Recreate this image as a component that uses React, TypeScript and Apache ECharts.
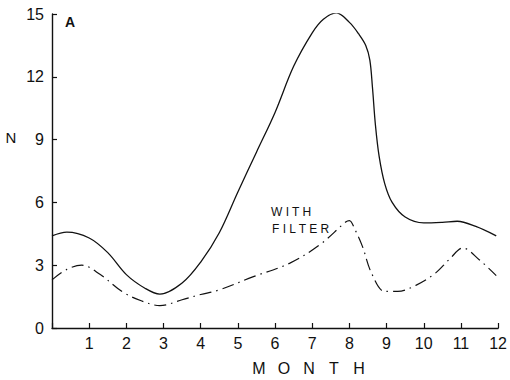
import React, { useEffect, useRef } from "react";
import * as echarts from "echarts";

// Without filter (solid curve): [month, N]
const noFilter: [number, number][] = [
  [0, 4.4], [0.4, 4.58], [1, 4.3], [1.5, 3.6], [2, 2.55], [2.5, 1.9], [2.9, 1.62],
  [3.5, 2.15], [4, 3.15], [4.5, 4.55], [5, 6.5], [5.5, 8.4], [6, 10.3], [6.5, 12.5],
  [7, 14.1], [7.3, 14.75], [7.65, 15.05], [8, 14.6], [8.25, 14.05], [8.44, 13.5], [8.55, 12.8],
  [8.62, 11.5], [8.7, 9.7], [8.8, 8.2], [8.95, 6.9], [9.15, 6.0], [9.5, 5.3], [10, 5.02],
  [10.5, 5.05], [10.9, 5.1], [11.4, 4.85], [11.95, 4.4],
];

// With filter (dash-dot curve): [month, N]
const withFilter: [number, number][] = [
  [0, 2.3], [0.4, 2.8], [0.8, 3.0], [1.3, 2.55], [1.9, 1.72], [2.4, 1.3], [2.9, 1.07],
  [3.5, 1.35], [4, 1.6], [4.5, 1.82], [5.4, 2.44], [6.4, 3.1], [7.2, 3.97], [7.9, 5.06],
  [8.0, 5.13], [8.15, 4.7], [8.35, 3.9], [8.6, 2.6], [8.95, 1.75], [9.3, 1.75], [9.8, 2.05],
  [10.3, 2.6], [10.7, 3.3], [11.05, 3.82], [11.5, 3.25], [11.95, 2.5],
];

const monthTicks = [0, 1, 2, 3, 4, 5, 6, 7, 8, 9, 10, 11, 12];
const nTicks = [0, 3, 6, 9, 12, 15];
const xTitleLetters = ["M", "O", "N", "T", "H"];

const FONT = "Liberation Sans";
const INK = "#111";

export default function App() {
  const ref = useRef<HTMLDivElement>(null);
  useEffect(() => {
    document.body.style.margin = "0";
    if (!ref.current) return;
    const chart = echarts.init(ref.current, undefined, { renderer: "svg" });
    const letterX = [259, 284, 309, 334, 359];
    chart.setOption({
      animation: false,
      backgroundColor: "#fff",
      grid: { left: 52, right: 10, top: 14, bottom: 52 },
      xAxis: {
        type: "value",
        min: monthTicks[0],
        max: monthTicks[monthTicks.length - 1],
        interval: 1,
        axisLine: { show: true, onZero: false, lineStyle: { color: INK, width: 1.4 } },
        axisTick: { show: true, inside: true, length: 5, lineStyle: { color: INK, width: 1.2 } },
        axisLabel: {
          fontFamily: FONT,
          fontSize: 16,
          color: INK,
          margin: 7,
          formatter: (v: number) => (v === 0 ? "" : String(v)),
        },
        splitLine: { show: false },
      },
      yAxis: {
        type: "value",
        min: nTicks[0],
        max: nTicks[nTicks.length - 1],
        interval: 3,
        axisLine: { show: true, lineStyle: { color: INK, width: 1.4 } },
        axisTick: { show: true, inside: true, length: 5, lineStyle: { color: INK, width: 1.2 } },
        axisLabel: { fontFamily: FONT, fontSize: 16, color: INK, margin: 8 },
        splitLine: { show: false },
      },
      series: [
        {
          type: "line",
          data: noFilter,
          smooth: 0.35,
          showSymbol: false,
          lineStyle: { color: INK, width: 1.3 },
        },
        {
          type: "line",
          data: withFilter,
          smooth: 0.35,
          showSymbol: false,
          lineStyle: { color: INK, width: 1.2, type: [12, 5, 1.5, 5] },
        },
      ],
      graphic: [
        {
          type: "text",
          x: 11,
          y: 137,
          style: { text: "N", font: `15px "${FONT}"`, fill: INK, align: "center", verticalAlign: "middle" },
        },
        {
          type: "text",
          x: 70,
          y: 22,
          style: { text: "A", font: `bold 14px "${FONT}"`, fill: INK, align: "center", verticalAlign: "middle" },
        },
        {
          type: "text",
          x: 271,
          y: 212,
          style: { text: "W I T H", font: `12px "${FONT}"`, fill: INK, align: "left", verticalAlign: "middle" },
        },
        {
          type: "text",
          x: 272,
          y: 229,
          style: { text: "F I L T E R", font: `12px "${FONT}"`, fill: INK, align: "left", verticalAlign: "middle" },
        },
        ...xTitleLetters.map((ch, i) => ({
          type: "text",
          x: letterX[i],
          y: 368,
          style: { text: ch, font: `16px "${FONT}"`, fill: INK, align: "center", verticalAlign: "middle" },
        })),
      ],
    });
    return () => chart.dispose();
  }, []);
  return <div ref={ref} style={{ width: 510, height: 380 }} />;
}
